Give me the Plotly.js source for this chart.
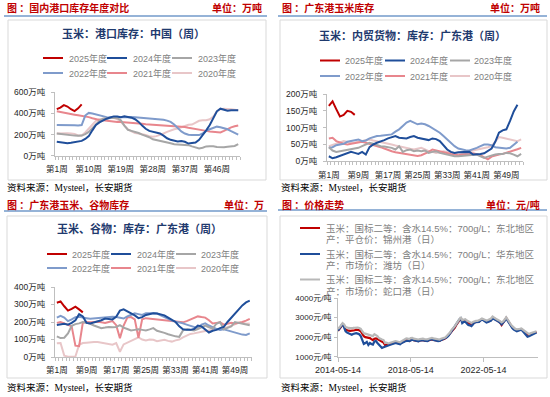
<!DOCTYPE html>
<html><head><meta charset="utf-8">
<script src="https://cdn.plot.ly/plotly-3.0.1.min.js"></script>
<style>html,body{margin:0;padding:0;background:#fff;}#chart{width:550px;height:397px;}</style>
</head><body><div id="chart"></div>
<script>
// ---------------- DATA ----------------
const yearNames = ['2025年度','2024年度','2023年度','2022年度','2021年度','2020年度'];

// 国内港口库存 (万吨), weekly
const tl2025 = [440,455,478,465,440,422,448,485];
const tl2024 = [132,128,120,118,122,128,132,140,158,185,240,290,315,335,350,362,372,370,365,372,368,360,345,320,285,255,235,225,218,210,190,165,150,140,135,140,132,115,118,125,150,190,240,290,350,420,445,435,425,430,428,430];
const tl2023 = [210,205,200,195,192,190,188,190,205,225,260,300,330,350,355,358,358,355,335,285,245,235,228,215,200,190,175,155,148,145,135,125,118,108,105,103,100,100,88,75,68,75,88,90,90,82,78,80,85,85,92,110];
const tl2022 = [290,288,287,285,285,287,286,290,380,405,400,390,380,370,365,362,360,362,365,368,368,367,365,362,360,358,355,352,350,345,340,332,320,295,260,230,210,198,195,192,195,210,235,250,265,275,270,262,250,232,215,200];
const tl2021 = [420,415,408,400,395,388,382,378,372,365,355,345,338,335,330,326,322,320,320,318,316,315,312,308,303,298,296,295,293,291,290,289,287,285,282,278,272,265,258,250,245,240,235,230,225,222,220,235,255,268,278,285];
const tl2020 = [210,212,215,213,210,205,192,190,220,255,300,330,345,352,358,360,358,345,320,280,250,230,215,210,205,195,185,180,185,195,210,225,240,250,258,270,285,292,295,310,330,335,335,345,370,420,440,445,445,440,435,430];
const tlTickVals = [1,10,19,28,37,46];
const tlTickText = ['第1周','第10周','第19周','第28周','第37周','第46周'];
const tlYTicks = [0,200,400,600];

// 广东港玉米库存 (万吨), weekly
const tr2025 = [165,178,155,133,138,150,147,138];
const tr2024 = [15,9,12,16,18,22,28,25,22,28,20,42,50,55,58,63,68,72,75,70,70,68,72,75,70,68,65,63,68,66,60,48,35,28,25,27,28,27,28,20,20,22,24,30,38,58,85,92,95,120,148,168];
const tr2023 = [42,32,28,30,32,35,36,38,40,45,50,55,52,48,45,44,42,40,35,45,28,33,35,30,32,30,32,25,28,30,25,22,20,18,15,15,16,15,17,18,20,15,10,14,18,20,22,22,25,24,20,15,22];
const tr2022 = [40,42,48,50,52,58,60,62,65,60,62,68,72,75,76,78,78,80,88,95,105,115,120,115,110,112,110,105,98,92,85,75,65,52,45,38,35,33,32,35,40,45,50,50,48,42,40,38,38,40,48,58];
const tr2021 = [68,70,60,55,52,50,52,55,57,58,55,52,50,47,42,38,33,30,27,25,22,20,18,17,16,18,22,28,35,32,30,28,25,22,20,18,20,20,22,24,22,18,12,6,14,18,20,22,25,30,32,36,40];
const tr2020 = [45,48,52,56,60,58,55,56,58,60,62,65,62,60,57,55,52,50,47,44,42,40,37,35,38,40,35,30,28,25,27,30,28,25,24,25,25,27,30,32,35,38,40,42,45,60,72,70,68,65,62,60,65];
const trTickVals = [1,9,17,25,33,41,49];
const trTickText = ['第1周','第9周','第17周','第25周','第33周','第41周','第49周'];
const trYTicks = [0,50,100,150,200];

// 广东港玉米、谷物库存 (万吨), weekly
const bl2025 = [310,318,290,265,275,288,272,255];
const bl2024 = [183,188,190,185,195,210,245,232,195,192,198,200,210,220,218,215,230,265,272,262,248,238,222,228,240,246,250,248,245,238,225,212,200,175,158,155,155,160,180,175,158,140,150,155,165,172,200,225,250,275,295,312,322];
const bl2023 = [118,108,110,135,178,188,192,200,195,190,180,172,165,168,172,170,172,182,168,160,152,155,158,155,152,158,165,150,145,138,130,122,118,115,152,158,155,152,160,172,180,170,162,190,200,158,165,175,200,195,190,185,182];
const bl2022 = [225,235,225,205,215,228,230,228,222,218,220,222,225,228,228,230,228,225,220,232,242,250,245,240,250,252,250,248,238,228,215,208,202,198,192,185,178,170,165,185,192,180,170,160,155,158,152,145,138,132,128,126,135];
const bl2021 = [195,200,192,185,175,65,62,195,200,198,200,202,198,195,200,205,182,108,180,225,228,215,110,215,222,220,218,215,212,210,208,205,202,200,198,205,215,225,232,228,225,210,192,195,198,185,190,195,192,195,200,208,218];
const bl2020 = [78,80,8,2,2,3,70,80,82,85,86,85,82,78,72,70,80,30,72,82,95,105,112,100,95,100,98,90,92,98,92,88,95,100,112,122,132,135,138,142,148,152,155,155,160,165,170,178,190,195,196,190,192];
const blYTicks = [0,100,200,300,400];

// 价格走势 (元/吨), monthly 2014-05 .. 2025-04
const priceNames = [
  '玉米：国标二等：含水14.5%：700g/L：东北地区产：平仓价：锦州港（日）',
  '玉米：国标二等：含水14.5%：700g/L：华东地区产：市场价：潍坊（日）',
  '玉米：国标二等：含水14.5%：700g/L：东北地区产：市场价：蛇口港（日）'
];
const priceJinzhou = [
  2330,2410,2520,2650,2560,2380,2340,2330,
  2320,2320,2340,2350,2380,2380,2350,2300,2150,2050,2000,1980,
  1980,1950,1900,1850,1920,1930,1900,1850,1800,1780,1720,1600,
  1620,1600,1620,1660,1680,1720,1740,1720,1700,1680,1720,1780,
  1800,1840,1830,1800,1860,1880,1840,1820,1810,1800,1830,1850,
  1850,1820,1800,1810,1840,1870,1880,1860,1840,1820,1800,1810,
  1860,1870,1900,1950,2020,2100,2200,2300,2370,2480,2620,2740,
  2880,2960,2800,2830,2850,2780,2720,2700,2640,2700,2760,2780,
  2780,2800,2860,2900,2880,2820,2780,2800,2820,2880,2980,2960,
  2900,2860,2820,2740,2620,2720,2850,2980,2860,2700,2600,2500,
  2420,2380,2350,2360,2380,2400,2330,2250,2180,2120,2100,2150,
  2170,2200,2240,2260];
const priceWeifang = [
  2330,2430,2560,2690,2520,2300,2230,2200,
  2150,2120,2160,2180,2200,2180,2150,2050,1780,1650,1700,1760,
  1600,1700,1650,1620,1780,1800,1700,1600,1500,1450,1480,1520,
  1560,1580,1600,1620,1640,1680,1700,1680,1660,1640,1700,1760,
  1780,1800,1820,1800,1840,1870,1840,1820,1800,1790,1820,1850,
  1840,1820,1800,1800,1840,1880,1890,1860,1830,1810,1800,1810,
  1850,1860,1890,1940,2000,2080,2200,2320,2380,2500,2620,2760,
  2900,2960,2720,2780,2800,2700,2620,2600,2560,2650,2740,2760,
  2760,2780,2840,2900,2860,2780,2750,2780,2800,2850,2960,2940,
  2880,2840,2800,2730,2650,2720,2830,2960,2820,2660,2560,2460,
  2380,2320,2300,2330,2350,2380,2300,2200,2100,2020,2050,2080,
  2100,2150,2200,2240];
const priceShekou = [
  2420,2500,2600,2720,2650,2520,2480,2470,
  2460,2450,2470,2480,2500,2490,2470,2420,2300,2200,2180,2150,
  2130,2100,2080,2050,2150,2120,2050,1950,1900,1880,1850,1700,
  1720,1680,1700,1740,1760,1780,1800,1780,1760,1740,1800,1850,
  1900,1930,1920,1900,1950,1960,1920,1900,1880,1880,1900,1920,
  1920,1900,1880,1890,1920,1950,1960,1940,1920,1900,1880,1880,
  1920,1930,1960,2000,2080,2150,2250,2380,2450,2550,2680,2800,
  2950,3020,2870,2900,2920,2850,2800,2780,2720,2780,2820,2830,
  2830,2850,2900,2950,2920,2880,2850,2880,2900,2950,3050,3020,
  2950,2900,2880,2820,2750,2800,2900,3020,2900,2750,2650,2560,
  2480,2420,2400,2400,2420,2440,2380,2300,2250,2200,2150,2200,
  2220,2260,2280,2300];
const priceTickVals = ['2014-05-14','2018-05-14','2022-05-14'];
const priceYTicks = [1000,2000,3000,4000];

// ---------------- STYLE / LAYOUT ----------------
const W = 550, H = 397;
const fx = x => x / W;
const fy = y => 1 - y / H;
const FONT = '"Liberation Sans", "Noto Sans CJK SC", sans-serif';
const CJK = '"Noto Sans CJK SC", sans-serif';
const SERIF = '"Liberation Serif", "Noto Sans CJK SC", serif';
const yearColors = ['#c00000','#1f4e9a','#a6a6a6','#7f9bcb','#e8868d','#e8c6c8'];
const priceColors = ['#c00000','#1f4e9a','#b8b8b8'];

const weeks = arr => arr.map((_, i) => i + 1);
const months = [];
for (let y = 2014, m = 5; months.length < priceShekou.length; m++) {
  if (m > 12) { m = 1; y++; }
  months.push(y + '-' + String(m).padStart(2, '0') + '-14');
}

const traces = [];
function addYears(series, xa, ya) {
  for (let i = series.length - 1; i >= 0; i--) {
    traces.push({x: weeks(series[i]), y: series[i], xaxis: xa, yaxis: ya, type: 'scatter', mode: 'lines',
      name: yearNames[i], showlegend: false, hoverinfo: 'skip',
      line: {color: yearColors[i], width: 2}});
  }
}
addYears([tl2025, tl2024, tl2023, tl2022, tl2021, tl2020], 'x', 'y');
addYears([tr2025, tr2024, tr2023, tr2022, tr2021, tr2020], 'x2', 'y2');
addYears([bl2025, bl2024, bl2023, bl2022, bl2021, bl2020], 'x3', 'y3');
[priceJinzhou, priceWeifang, priceShekou].forEach((s, i) => {
  traces.push({x: months, y: s, xaxis: 'x4', yaxis: 'y4', type: 'scatter', mode: 'lines',
    name: priceNames[i], showlegend: false, hoverinfo: 'skip', line: {color: priceColors[i], width: 2.2}});
});

const axisBase = {showgrid: false, zeroline: false, showline: true, linecolor: '#bfbfbf', linewidth: 1,
  tickcolor: '#bfbfbf', ticks: 'outside', ticklen: 3, fixedrange: true,
  tickfont: {family: FONT, size: 8.5, color: '#262626'}};

function weekAxis(d0, d1, n, vals, text, anchor) {
  return Object.assign({}, axisBase, {domain: [fx(d0), fx(d1)], range: [0.5, n + 0.5], anchor: anchor,
    tickmode: 'array', tickvals: vals, ticktext: text, tickcolor: 'rgba(0,0,0,0)', ticklen: 3, ticklabelstandoff: 2,
    minor: {ticks: 'outside', tickmode: 'linear', tick0: 0.5, dtick: 1, ticklen: 3, tickcolor: '#bfbfbf', showgrid: false}});
}
function valAxis(top, bottom, range, vals, suffix, anchor) {
  return Object.assign({}, axisBase, {domain: [fy(bottom), fy(top)], range: range, anchor: anchor,
    tickmode: 'array', tickvals: vals, ticktext: vals.map(v => v + suffix), ticklabelstandoff: 4});
}

const layout = {
  width: W, height: H, margin: {l: 0, r: 0, t: 0, b: 0}, paper_bgcolor: '#fff', plot_bgcolor: 'rgba(0,0,0,0)',
  showlegend: false,
  xaxis: weekAxis(55, 240, 52, tlTickVals, tlTickText, 'y'),
  yaxis: valAxis(92.3, 155.7, [0, 600], tlYTicks, '万吨', 'x'),
  xaxis2: weekAxis(327, 523, 53, trTickVals, trTickText, 'y2'),
  yaxis2: valAxis(94, 161.3, [0, 200], trYTicks, '万吨', 'x2'),
  xaxis3: weekAxis(55, 251.6, 53, trTickVals, trTickText, 'y3'),
  yaxis3: valAxis(287, 357, [0, 400], blYTicks, '万吨', 'x3'),
  xaxis4: Object.assign({}, axisBase, {type: 'date', domain: [fx(338), fx(538)], range: ['2014-05-14', '2025-05-14'],
    anchor: 'y4', tickmode: 'array', tickvals: priceTickVals, ticktext: priceTickVals, ticklen: 4,
    tickfont: {family: FONT, size: 9, color: '#262626'}}),
  yaxis4: Object.assign(valAxis(298, 356.7, [1000, 4000], priceYTicks, '元/吨', 'x4'),
    {ticklabelstandoff: 1, tickfont: {family: FONT, size: 8, color: '#262626'}}),
  shapes: [], annotations: []
};

function text(x, y, t, opts) {
  layout.annotations.push(Object.assign({xref: 'paper', yref: 'paper', x: fx(x), y: fy(y), text: t, showarrow: false,
    xanchor: 'left', yanchor: 'middle', font: {family: CJK, size: 9, color: '#000'}}, opts || {}));
}
function line(x0, y0, x1, y1, color, width) {
  layout.shapes.push({type: 'line', xref: 'paper', yref: 'paper', x0: fx(x0), x1: fx(x1), y0: fy(y0), y1: fy(y1),
    line: {color: color, width: width}});
}
function box(x0, y0, x1, y1) {
  layout.shapes.push({type: 'rect', xref: 'paper', yref: 'paper', x0: fx(x0), x1: fx(x1), y0: fy(y1), y1: fy(y0),
    line: {color: '#d9d9d9', width: 1}, fillcolor: 'rgba(0,0,0,0)', layer: 'below'});
}

const headRed = {family: CJK, size: 10, color: '#c00000'};
const panels = [
  {head: '图 ：国内港口库存年度对比', unit: '单位：万吨', hx: 5, ux: 264, hy: 8, ulY: 16, ulX: [4, 267], boxR: [8, 20, 266, 180],
   title: '玉米：港口库存：中国（周）', tx: 133, ty: 33, src: [5, 188],
   leg: {rows: [58, 73], lx: [[43, 63], [107, 127], [172, 192]], tx: [67, 131, 196]}},
  {head: '图 ：广东港玉米库存', unit: '单位：万吨', hx: 280, ux: 542, hy: 8, ulY: 16, ulX: [278, 547], boxR: [280, 20, 547, 180],
   title: '玉米：内贸货物：库存：广东港（周）', tx: 412, ty: 35, src: [279, 188],
   leg: {rows: [60.5, 76], lx: [[320, 340], [385, 405], [450, 470]], tx: [343, 408, 472]}},
  {head: '图 ：广东港玉米、谷物库存', unit: '单位：万', hx: 5, ux: 266, hy: 205, ulY: 211, ulX: [4, 267], boxR: [7, 216, 267, 378],
   title: '玉米、谷物：库存：广东港（周）', tx: 140, ty: 228, src: [5, 387],
   leg: {rows: [254, 268], lx: [[47, 67], [111, 131], [176, 196]], tx: [70, 135, 199]}},
  {head: '图 ：价格走势', unit: '单位：元/吨', hx: 280, ux: 542, hy: 205, ulY: 210, ulX: [278, 547], boxR: [280, 216, 547, 378],
   title: null, src: [279, 387], leg: null}
];
panels.forEach(p => {
  text(p.hx, p.hy, '<b>' + p.head + '</b>', {font: headRed});
  text(p.ux, p.hy, '<b>' + p.unit + '</b>', {font: headRed, xanchor: 'right'});
  line(p.ulX[0], p.ulY, p.ulX[1], p.ulY, '#95b3d7', 2);
  box.apply(null, p.boxR);
  if (p.title) text(p.tx, p.ty, '<b>' + p.title + '</b>', {xanchor: 'center', font: {family: CJK, size: 11, color: '#1f3a6e'}});
  text(p.src[0], p.src[1], '资料来源：Mysteel，长安期货', {font: {family: SERIF, size: 9.5, color: '#000'}});
  if (p.leg) {
    yearNames.forEach((n, i) => {
      const r = Math.floor(i / 3), c = i % 3, y = p.leg.rows[r];
      line(p.leg.lx[c][0], y, p.leg.lx[c][1], y, yearColors[i], 2);
      text(p.leg.tx[c], y, n, {font: {family: FONT, size: 9, color: '#808080'}});
    });
  }
});
// price legend (two-line entries)
const priceLegY = [228, 254, 279.5];
priceNames.forEach((n, i) => {
  const k = n.indexOf('地区') + 2;
  line(300, priceLegY[i], 320, priceLegY[i], priceColors[i], 2);
  text(324, priceLegY[i], n.slice(0, k), {font: {family: FONT, size: 9.5, color: '#808080'}});
  text(324, priceLegY[i] + 11.5, n.slice(k), {font: {family: FONT, size: 9.5, color: '#808080'}});
});

Plotly.newPlot('chart', traces, layout, {staticPlot: true, displayModeBar: false});
</script></body></html>
